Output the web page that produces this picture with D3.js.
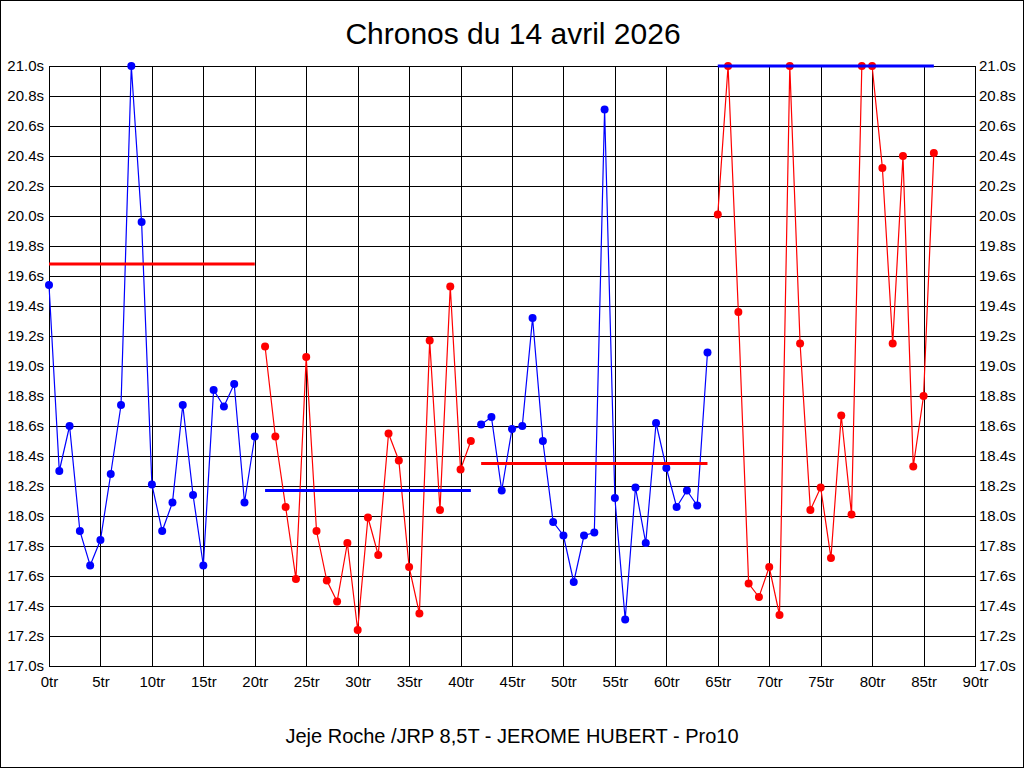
<!DOCTYPE html>
<html>
<head>
<meta charset="utf-8">
<script src="https://cdn.jsdelivr.net/npm/d3@7/dist/d3.min.js"></script>
<style>
  html, body { margin: 0; padding: 0; background: #fff; }
  svg { display: block; }
  text { font-family: "Liberation Sans", Arial, sans-serif; fill: #000; }
</style>
</head>
<body>
<svg id="chart" width="1024" height="768"></svg>
<script>
// ---- data ----
const title = "Chronos du 14 avril 2026";
const footer = "Jeje Roche /JRP 8,5T - JEROME HUBERT - Pro10";

// lap times (s), laps 0..86
const lapTimes = [
  19.54, 18.30, 18.60, 17.90, 17.67, 17.84, 18.28, 18.74, 21.00, 19.96,
  18.21, 17.90, 18.09, 18.74, 18.14, 17.67, 18.84, 18.73, 18.88, 18.09,
  18.53,
  19.13, 18.53, 18.06, 17.58, 19.06, 17.90, 17.57, 17.43, 17.82, 17.24,
  17.99, 17.74, 18.55, 18.37, 17.66, 17.35, 19.17, 18.04, 19.53, 18.31,
  18.50,
  18.61, 18.66, 18.17, 18.58, 18.60, 19.32, 18.50, 17.96, 17.87, 17.56,
  17.87, 17.89, 20.71, 18.12, 17.31, 18.19, 17.82, 18.62, 18.32, 18.06,
  18.17, 18.07, 19.09,
  20.01, 21.00, 19.36, 17.55, 17.46, 17.66, 17.34, 21.00, 19.15, 18.04,
  18.19, 17.72, 18.67, 18.01, 21.00, 21.00, 20.32, 19.15, 20.40, 18.33,
  18.80, 20.42
];

// stint segments: first lap, last lap, point colour, mean line colour, mean value
const segStart = [0, 21, 42, 65];
const segEnd = [20, 41, 64, 86];
const segColor = ["#0000ff", "#ff0000", "#0000ff", "#ff0000"];
const meanColor = ["#ff0000", "#0000ff", "#ff0000", "#0000ff"];
const meanValue = [19.68, 18.17, 18.35, 21.00];

const xTicks = [0, 5, 10, 15, 20, 25, 30, 35, 40, 45, 50, 55, 60, 65, 70, 75, 80, 85, 90];
const yTicks = [17.0, 17.2, 17.4, 17.6, 17.8, 18.0, 18.2, 18.4, 18.6, 18.8, 19.0,
                19.2, 19.4, 19.6, 19.8, 20.0, 20.2, 20.4, 20.6, 20.8, 21.0];

// ---- layout ----
const W = 1024, H = 768;
const pLeft = 49, pRight = 975, pTop = 66, pBottom = 666;

const svg = d3.select("#chart");
const x = d3.scaleLinear().domain([0, 90]).range([pLeft, pRight]);
const y = d3.scaleLinear().domain([17, 21]).range([pBottom, pTop]);

// outer border
svg.append("rect").attr("x", 0.5).attr("y", 0.5).attr("width", W - 1).attr("height", H - 1)
  .attr("fill", "#fff").attr("stroke", "#000").attr("stroke-width", 1);

// title
svg.append("text").attr("x", 513).attr("y", 44).attr("text-anchor", "middle")
  .style("font-size", "30px").text(title);

// footer
svg.append("text").attr("x", 512).attr("y", 743).attr("text-anchor", "middle")
  .style("font-size", "20px").text(footer);

// grid
const grid = svg.append("g").attr("shape-rendering", "crispEdges");
grid.selectAll(".vg").data(xTicks).enter().append("line")
  .attr("x1", d => Math.round(x(d)) + 0.5).attr("x2", d => Math.round(x(d)) + 0.5)
  .attr("y1", pTop).attr("y2", pBottom)
  .attr("stroke", "#000").attr("stroke-width", 1);
grid.selectAll(".hg").data(yTicks).enter().append("line")
  .attr("x1", pLeft).attr("x2", pRight)
  .attr("y1", d => Math.round(y(d)) + 0.5).attr("y2", d => Math.round(y(d)) + 0.5)
  .attr("stroke", "#000").attr("stroke-width", 1);

// plot frame
svg.append("rect").attr("x", pLeft + 0.5).attr("y", pTop + 0.5)
  .attr("width", pRight - pLeft).attr("height", pBottom - pTop)
  .attr("fill", "none").attr("stroke", "#000").attr("stroke-width", 1)
  .attr("shape-rendering", "crispEdges");

// axes labels via d3 axes
const axL = svg.append("g").attr("transform", `translate(${pLeft},0)`)
  .call(d3.axisLeft(y).tickValues(yTicks).tickSize(0).tickPadding(5).tickFormat(d => d.toFixed(1) + "s"));
const axR = svg.append("g").attr("transform", `translate(${pRight},0)`)
  .call(d3.axisRight(y).tickValues(yTicks).tickSize(0).tickPadding(4).tickFormat(d => d.toFixed(1) + "s"));
const axB = svg.append("g").attr("transform", `translate(0,${pBottom})`)
  .call(d3.axisBottom(x).tickValues(xTicks).tickSize(0).tickPadding(10).tickFormat(d => d + "tr"));
[axL, axR, axB].forEach(a => {
  a.select(".domain").remove();
  a.selectAll("text").style("font-size", "15px").style("font-family", "'Liberation Sans', Arial, sans-serif").attr("fill", "#000");
});

// data lines & points
const line = d3.line().x(d => x(d[0])).y(d => y(d[1]));
segStart.forEach((s, i) => {
  const pts = [];
  for (let k = segStart[i]; k <= segEnd[i]; k++) pts.push([k, lapTimes[k]]);
  svg.append("path").datum(pts).attr("d", line)
    .attr("fill", "none").attr("stroke", segColor[i]).attr("stroke-width", 1.2);
  svg.append("g").selectAll("circle").data(pts).enter().append("circle")
    .attr("cx", d => x(d[0])).attr("cy", d => y(d[1])).attr("r", 4)
    .attr("fill", segColor[i]);
});

// mean lines
segStart.forEach((s, i) => {
  svg.append("line")
    .attr("x1", x(segStart[i])).attr("x2", x(segEnd[i]))
    .attr("y1", y(meanValue[i])).attr("y2", y(meanValue[i]))
    .attr("stroke", meanColor[i]).attr("stroke-width", 3);
});
</script>
</body>
</html>
